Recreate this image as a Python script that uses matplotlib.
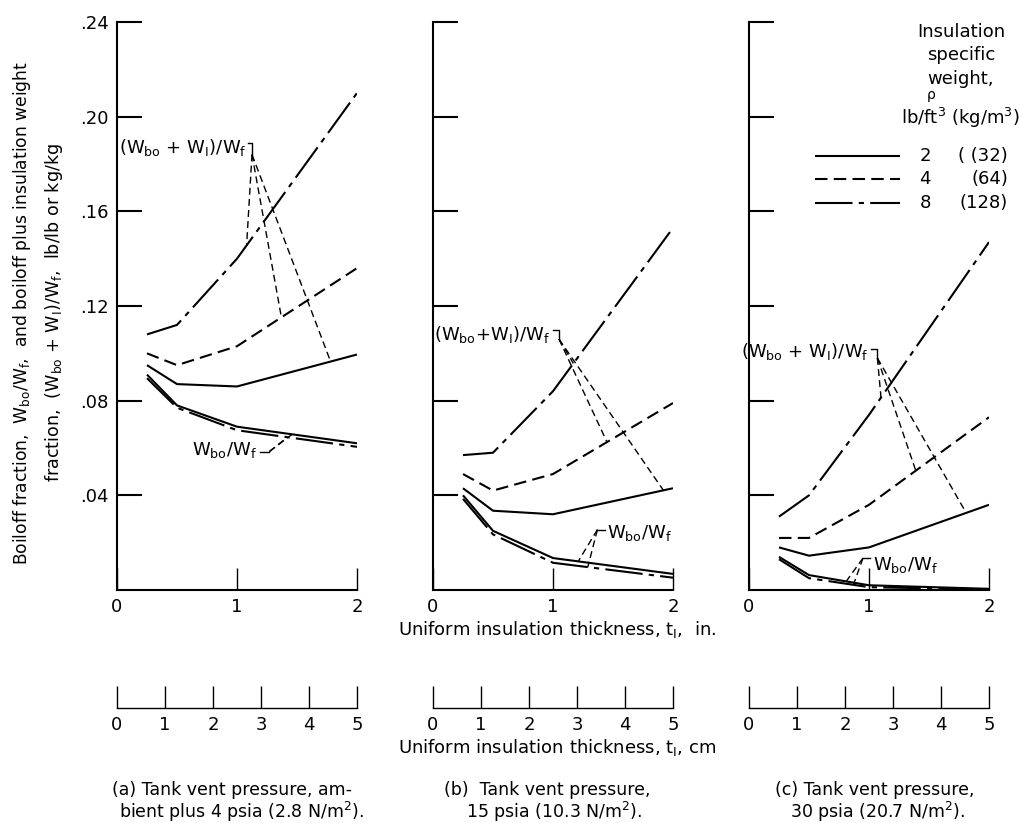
import matplotlib
matplotlib.use("Agg")
import numpy as np
import matplotlib.pyplot as plt
from matplotlib.lines import Line2D

# Insulation thickness (in.) at which each curve was computed
thick_in = [0.25, 0.5, 1.0, 2.0]

# (a) ambient plus 4 psia
a_total_2 = [0.095, 0.087, 0.086, 0.0995]
a_total_4 = [0.100, 0.095, 0.103, 0.136]
a_total_8 = [0.108, 0.112, 0.140, 0.210]
a_boil_2 = [0.091, 0.078, 0.069, 0.062]
a_boil_8 = [0.0895, 0.077, 0.0675, 0.0605]

# (b) 15 psia
b_total_2 = [0.043, 0.0335, 0.032, 0.043]
b_total_4 = [0.049, 0.042, 0.049, 0.079]
b_total_8 = [0.057, 0.058, 0.084, 0.153]
b_boil_2 = [0.040, 0.025, 0.0135, 0.0068]
b_boil_8 = [0.0385, 0.0235, 0.0115, 0.0052]

# (c) 30 psia
c_total_2 = [0.018, 0.0145, 0.018, 0.036]
c_total_4 = [0.022, 0.022, 0.036, 0.073]
c_total_8 = [0.031, 0.040, 0.074, 0.147]
c_boil_2 = [0.014, 0.0063, 0.002, 0.0005]
c_boil_8 = [0.013, 0.005, 0.0012, 0.0002]

y_ticks = [0.04, 0.08, 0.12, 0.16, 0.20, 0.24]
y_tick_labels = [".04", ".08", ".12", ".16", ".20", ".24"]
in_ticks = [0, 1, 2]
cm_ticks = [0, 1, 2, 3, 4, 5]
densities = [2, 4, 8]
density_si = ["( (32)", "(64)", "(128)"]

captions = [
    ["(a) Tank vent pressure, am-", "bient plus 4 psia (2.8 N/m$^2$)."],
    ["(b)  Tank vent pressure,", "15 psia (10.3 N/m$^2$)."],
    ["(c) Tank vent pressure,", "30 psia (20.7 N/m$^2$)."],
]
caption_x = [(232, 242), (547, 554), (875, 877)]

FONT = "DejaVu Sans"
plt.rcParams.update({
    "font.family": FONT,
    "font.size": 13,
    "mathtext.fontset": "custom",
    "mathtext.rm": FONT,
    "mathtext.it": FONT,
    "mathtext.bf": FONT,
})

W, H = 1019, 823
LW = 1.5
STYLE = {2: (0, ()), 4: (0, (6, 3)), 8: (0, (18, 3, 2.5, 3))}
LEADER = (0, (5, 3))


def fx(px):
    return px / W


def fy(py):
    return 1 - py / H


TOTAL_LBL = r"(W$_\mathrm{bo}$ + W$_\mathrm{I}$)/W$_\mathrm{f}$"
TOTAL_LBL_TIGHT = r"(W$_\mathrm{bo}$+W$_\mathrm{I}$)/W$_\mathrm{f}$"
BOIL_LBL = r"W$_\mathrm{bo}$/W$_\mathrm{f}$"

panels = [
    dict(left=117, total={2: a_total_2, 4: a_total_4, 8: a_total_8}, boil={2: a_boil_2, 8: a_boil_8},
         tlabel=TOTAL_LBL, tpos=(1.08, 0.187), tbr=(1.09, 1.125, 0.189, 0.184),
         tleads={8: 1.08, 4: 1.37, 2: 1.78},
         bpos=(1.17, 0.059, "right"), bbr=(1.19, 1.27, 0.0585, 0.0585), bleads={2: 1.46, 8: 1.42}),
    dict(left=433, total={2: b_total_2, 4: b_total_4, 8: b_total_8}, boil={2: b_boil_2, 8: b_boil_8},
         tlabel=TOTAL_LBL_TIGHT, tpos=(0.975, 0.108), tbr=(1.0, 1.05, 0.110, 0.106),
         tleads={8: 1.17, 4: 1.45, 2: 1.92},
         bpos=(1.45, 0.024, "left"), bbr=(1.43, 1.37, 0.0255, 0.0255), bleads={2: 1.21, 8: 1.29}),
    dict(left=749, total={2: c_total_2, 4: c_total_4, 8: c_total_8}, boil={2: c_boil_2, 8: c_boil_8},
         tlabel=TOTAL_LBL, tpos=(1.0, 0.1007), tbr=(1.02, 1.07, 0.102, 0.098),
         tleads={8: 1.10, 4: 1.39, 2: 1.81},
         bpos=(1.03, 0.0106, "left"), bbr=(1.01, 0.95, 0.0135, 0.0135), bleads={2: 0.81, 8: 0.87}),
]

fig = plt.figure(figsize=(W / 100, H / 100), dpi=100)
fig.patch.set_facecolor("white")

for i, p in enumerate(panels):
    ax = fig.add_axes([fx(p["left"]), fy(590), fx(240), (590 - 22) / H])
    ax.set_xlim(0, 2)
    ax.set_ylim(0, 0.24)
    for side in ("top", "right"):
        ax.spines[side].set_visible(False)
    for side in ("left", "bottom"):
        ax.spines[side].set_linewidth(LW)
    ax.set_yticks(y_ticks)
    ax.set_yticklabels(y_tick_labels if i == 0 else [])
    ax.set_xticks(in_ticks)
    ax.set_xticklabels([str(t) for t in in_ticks])
    ax.tick_params(axis="y", direction="in", length=18, width=LW, pad=6, labelsize=13)
    ax.tick_params(axis="x", direction="in", length=16, width=1.0, pad=6, labelsize=13)

    for d, vals in p["total"].items():
        ax.plot(thick_in, vals, color="black", lw=LW, linestyle=STYLE[d])
    for d, vals in p["boil"].items():
        ax.plot(thick_in, vals, color="black", lw=LW, linestyle=STYLE[d])

    # total-weight label with bracket and leaders to each density curve
    tx, ty = p["tpos"]
    ax.text(tx, ty, p["tlabel"], ha="right", va="center", fontsize=13)
    x0, x1, y0, y1 = p["tbr"]
    ax.plot([x0, x1, x1], [y0, y0, y1], color="black", lw=1.0)
    for d, xt in p["tleads"].items():
        yt = np.interp(xt, thick_in, p["total"][d])
        ax.plot([x1, xt], [y1, yt], color="black", lw=1.0, linestyle=LEADER)

    # boiloff label
    bx, by, bha = p["bpos"]
    ax.text(bx, by, BOIL_LBL, ha=bha, va="center", fontsize=13)
    x0, x1, y0, y1 = p["bbr"]
    ax.plot([x0, x1], [y0, y1], color="black", lw=1.0)
    for d, xt in p["bleads"].items():
        yt = np.interp(xt, thick_in, p["boil"][d])
        ax.plot([x1, xt], [y1, yt], color="black", lw=1.0, linestyle=LEADER)

    # metric thickness scale
    cax = fig.add_axes([fx(p["left"]), fy(708), fx(240), 0.001])
    cax.set_xlim(0, 5)
    cax.set_yticks([])
    for side in ("top", "right", "left"):
        cax.spines[side].set_visible(False)
    cax.spines["bottom"].set_linewidth(1.0)
    cax.set_xticks(cm_ticks)
    cax.set_xticklabels([str(t) for t in cm_ticks])
    cax.tick_params(axis="x", direction="in", length=16, width=1.0, pad=6, labelsize=13)
    cax.patch.set_visible(False)

    x_a, x_b = caption_x[i]
    fig.text(fx(x_a), fy(790), captions[i][0], ha="center", va="center", fontsize=12.5)
    fig.text(fx(x_b), fy(812), captions[i][1], ha="center", va="center", fontsize=12.5)

fig.text(fx(557), fy(629), r"Uniform insulation thickness, t$_\mathrm{I}$,  in.", ha="center", va="center", fontsize=13)
fig.text(fx(557), fy(748), r"Uniform insulation thickness, t$_\mathrm{I}$, cm", ha="center", va="center", fontsize=13)

fig.text(fx(22), fy(313),
         r"Boiloff fraction,  W$_\mathrm{bo}$/W$_\mathrm{f}$,  and boiloff plus insulation weight",
         rotation=90, ha="center", va="center", fontsize=12.3)
fig.text(fx(54), fy(313),
         r"fraction,  (W$_\mathrm{bo}$ + W$_\mathrm{I}$)/W$_\mathrm{f}$,  lb/lb or kg/kg",
         rotation=90, ha="center", va="center", fontsize=12.6)

# density key
for txt, yy in [("Insulation", 32), ("specific", 55), ("weight,", 79)]:
    fig.text(fx(961), fy(yy), txt, ha="center", va="center", fontsize=13)
fig.text(fx(931), fy(97), r"$\rho$", ha="center", va="center", fontsize=10)
fig.text(fx(960), fy(118), r"lb/ft$^3$ (kg/m$^3$)", ha="center", va="center", fontsize=13)
for d, si, yy in zip(densities, density_si, [156, 179, 203]):
    fig.add_artist(Line2D([fx(815), fx(900)], [fy(yy), fy(yy)], color="black", lw=LW, linestyle=STYLE[d]))
    fig.text(fx(925), fy(yy), str(d), ha="center", va="center", fontsize=13)
    fig.text(fx(1008), fy(yy), si, ha="right", va="center", fontsize=13)

fig.savefig("out.png", dpi=100, facecolor="white")
